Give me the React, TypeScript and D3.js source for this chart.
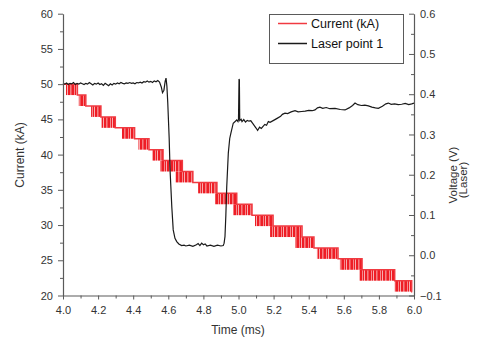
import { useEffect, useRef } from "react"
import * as d3 from "d3"

// Current staircase: quantised levels (kA) and the flicker window [start, end] (ms)
// in which the signal toggles from the previous level down to this one.
const currentLevels = [
  50.0, 48.45, 46.9, 45.35, 43.8, 42.25, 40.7, 39.15, 37.6, 36.05, 34.5, 32.95, 31.4, 29.85,
  28.3, 26.75, 25.2, 23.65, 22.1, 20.55,
]
const flickerStart = [
  4.017, 4.09, 4.16, 4.218, 4.336, 4.43, 4.51, 4.553, 4.64, 4.77, 4.866, 4.97, 5.094, 5.18,
  5.322, 5.447, 5.578, 5.69, 5.89,
]
const flickerEnd = [
  4.082, 4.13, 4.216, 4.298, 4.408, 4.49, 4.57, 4.68, 4.74, 4.877, 4.99, 5.077, 5.197, 5.362,
  5.43, 5.567, 5.704, 5.89, 5.987,
]
const currentEndTime = 5.99

// Laser point 1 voltage (V)
const laserTime = [
  4.0, 4.01, 4.02, 4.03, 4.04, 4.05, 4.06, 4.07, 4.08, 4.09, 4.1, 4.11, 4.12, 4.13, 4.14, 4.15,
  4.16, 4.17, 4.18, 4.19, 4.2, 4.21, 4.22, 4.23, 4.24, 4.25, 4.26, 4.27, 4.28, 4.29, 4.3, 4.31,
  4.32, 4.33, 4.34, 4.35, 4.36, 4.37, 4.38, 4.39, 4.4, 4.41, 4.42, 4.43, 4.44, 4.45, 4.46, 4.47,
  4.48, 4.49, 4.5, 4.51, 4.52, 4.53, 4.54, 4.55, 4.56, 4.567, 4.575, 4.582, 4.587, 4.592, 4.597,
  4.605, 4.61, 4.62, 4.628, 4.638, 4.648, 4.66, 4.676, 4.69, 4.7, 4.72, 4.74, 4.76, 4.77, 4.78,
  4.79, 4.8, 4.81, 4.82, 4.84, 4.86, 4.88, 4.9, 4.913, 4.918, 4.923, 4.928, 4.933, 4.942, 4.95,
  4.957, 4.97, 4.99, 4.997, 5.0, 5.003, 5.005, 5.007, 5.015, 5.02, 5.03, 5.04, 5.05, 5.06, 5.07,
  5.08, 5.09, 5.1, 5.109, 5.12, 5.13, 5.14, 5.15, 5.16, 5.17, 5.18, 5.2, 5.22, 5.24, 5.25, 5.265,
  5.28, 5.3, 5.322, 5.34, 5.36, 5.38, 5.4, 5.42, 5.436, 5.45, 5.464, 5.48, 5.5, 5.52, 5.55, 5.58,
  5.607, 5.63, 5.65, 5.664, 5.68, 5.7, 5.72, 5.74, 5.76, 5.78, 5.797, 5.82, 5.84, 5.854, 5.87,
  5.89, 5.91, 5.93, 5.95, 5.97, 5.987, 6.0,
]
const laserVolt = [
  0.427, 0.425, 0.428, 0.424, 0.427, 0.426, 0.429, 0.424, 0.427, 0.425, 0.428, 0.426, 0.424,
  0.427, 0.425, 0.429, 0.426, 0.423, 0.427, 0.425, 0.428, 0.424, 0.426, 0.422, 0.427, 0.424,
  0.421, 0.426, 0.423, 0.427, 0.425, 0.428, 0.426, 0.429, 0.427, 0.426, 0.428, 0.427, 0.429,
  0.427, 0.428, 0.426, 0.429, 0.428, 0.43, 0.428, 0.431, 0.43, 0.433, 0.43, 0.432, 0.429, 0.433,
  0.431, 0.434, 0.43, 0.418, 0.404, 0.41, 0.432, 0.44, 0.42, 0.378, 0.29, 0.212, 0.12, 0.063,
  0.042, 0.034, 0.028, 0.024, 0.025, 0.023, 0.025, 0.022, 0.026, 0.029, 0.024, 0.03, 0.026, 0.028,
  0.023, 0.025, 0.022, 0.025, 0.023, 0.024, 0.03, 0.0465, 0.1, 0.171, 0.254, 0.29, 0.304, 0.328,
  0.336, 0.332, 0.338, 0.438, 0.435, 0.335, 0.338, 0.332, 0.337, 0.331, 0.335, 0.333, 0.334,
  0.328, 0.322, 0.316, 0.31, 0.318, 0.315, 0.32, 0.325, 0.323, 0.332, 0.33, 0.335, 0.34, 0.345,
  0.35, 0.353, 0.352, 0.356, 0.359, 0.356, 0.357, 0.358, 0.36, 0.359, 0.361, 0.366, 0.368, 0.365,
  0.367, 0.364, 0.365, 0.362, 0.361, 0.366, 0.372, 0.378, 0.374, 0.372, 0.373, 0.371, 0.368,
  0.366, 0.365, 0.37, 0.376, 0.378, 0.375, 0.376, 0.374, 0.375, 0.377, 0.374, 0.376, 0.378,
]

const currentTicks = [20, 25, 30, 35, 40, 45, 50, 55, 60]
const voltTicks = [-0.1, 0.0, 0.1, 0.2, 0.3, 0.4, 0.5, 0.6]
const timeTicks = [4.0, 4.2, 4.4, 4.6, 4.8, 5.0, 5.2, 5.4, 5.6, 5.8, 6.0]

const FONT = "'Liberation Sans', Arial, sans-serif"
const AXIS = "#5a5a5a"
const TEXT = "#333"
const RED = "#ee1d25"

export default function App() {
  const svgRef = useRef<SVGSVGElement>(null)

  useEffect(() => {
    if (!svgRef.current) return
    const svg = d3.select(svgRef.current)
    svg.selectAll("*").remove()

    const x = d3.scaleLinear().domain([4, 6]).range([63, 414])
    const yL = d3.scaleLinear().domain([20, 60]).range([295.5, 13.7])
    const yR = d3.scaleLinear().domain([-0.1, 0.6]).range([295.5, 13.7])

    // striped fill to mimic the fast toggling between two levels
    const defs = svg.append("defs")
    const pat = defs
      .append("pattern")
      .attr("id", "flicker")
      .attr("patternUnits", "userSpaceOnUse")
      .attr("width", 9)
      .attr("height", 10)
    pat.append("rect").attr("width", 9).attr("height", 10).attr("fill", "#fbd3d4")
    ;[
      [0, 2],
      [2.6, 1.6],
      [5, 2.4],
      [7.9, 0.8],
    ].forEach(([px, w]) => {
      pat.append("rect").attr("x", px).attr("width", w).attr("height", 10).attr("fill", RED)
    })

    // Current staircase: flicker blocks
    svg
      .append("g")
      .selectAll("rect")
      .data(flickerStart)
      .enter()
      .append("rect")
      .attr("x", (d) => x(d))
      .attr("width", (d, i) => x(flickerEnd[i]) - x(d))
      .attr("y", (d, i) => yL(currentLevels[i]))
      .attr("height", (d, i) => yL(currentLevels[i + 1]) - yL(currentLevels[i]))
      .attr("fill", "url(#flicker)")

    // Current staircase: step line
    let stepPath = `M${x(4)},${yL(currentLevels[0])}`
    flickerEnd.forEach((t, i) => {
      stepPath += `H${x(t)}V${yL(currentLevels[i + 1])}`
    })
    stepPath += `H${x(currentEndTime)}`
    svg
      .append("path")
      .attr("d", stepPath)
      .attr("fill", "none")
      .attr("stroke", "#f03a41")
      .attr("stroke-width", 1.5)

    // Laser voltage
    const laserData = laserTime.map((t, i) => [t, laserVolt[i]] as [number, number])
    const line = d3
      .line<[number, number]>()
      .x((d) => x(d[0]))
      .y((d) => yR(d[1]))
    svg
      .append("path")
      .datum(laserData)
      .attr("fill", "none")
      .attr("stroke", "#1a1a1a")
      .attr("stroke-width", 1.2)
      .attr("d", line)

    const styleAxis = (g: any) => {
      g.selectAll(".domain").attr("stroke", AXIS).attr("stroke-width", 1.2)
      g.selectAll(".tick line").attr("stroke", AXIS)
      g.selectAll("text")
        .attr("fill", TEXT)
        .style("font-family", FONT)
        .style("font-size", "11px")
    }

    // Left axis
    const left = svg
      .append("g")
      .attr("transform", "translate(63,0)")
      .call(d3.axisLeft(yL).tickValues(currentTicks).tickSize(5).tickSizeOuter(0).tickPadding(5).tickFormat(d3.format("d")))
    styleAxis(left)
    svg
      .append("g")
      .attr("transform", "translate(63,0)")
      .call(d3.axisLeft(yL).tickValues(d3.range(22.5, 60, 5)).tickSize(3).tickSizeOuter(0).tickFormat(() => ""))
      .call((g) => g.select(".domain").remove())
      .selectAll("line")
      .attr("stroke", AXIS)

    // Right axis (ticks pointing inward)
    const right = svg
      .append("g")
      .attr("transform", "translate(414,0)")
      .call(d3.axisRight(yR).tickValues(voltTicks).tickSize(-5).tickSizeOuter(0).tickPadding(6).tickFormat(d3.format(".1f")))
    styleAxis(right)
    svg
      .append("g")
      .attr("transform", "translate(414,0)")
      .call(d3.axisRight(yR).tickValues(d3.range(-0.05, 0.6, 0.1)).tickSize(-3).tickSizeOuter(0).tickFormat(() => ""))
      .call((g) => g.select(".domain").remove())
      .selectAll("line")
      .attr("stroke", AXIS)

    // Bottom axis
    const bottom = svg
      .append("g")
      .attr("transform", "translate(0,295.5)")
      .call(d3.axisBottom(x).tickValues(timeTicks).tickSize(4).tickSizeOuter(0).tickPadding(7).tickFormat(d3.format(".1f")))
    styleAxis(bottom)
    svg
      .append("g")
      .attr("transform", "translate(0,295.5)")
      .call(d3.axisBottom(x).tickValues(d3.range(4.1, 6, 0.2)).tickSize(3).tickSizeOuter(0).tickFormat(() => ""))
      .call((g) => g.select(".domain").remove())
      .selectAll("line")
      .attr("stroke", AXIS)

    // Axis titles
    svg
      .append("text")
      .attr("x", 238)
      .attr("y", 334)
      .attr("text-anchor", "middle")
      .attr("fill", TEXT)
      .style("font-family", FONT)
      .style("font-size", "12px")
      .text("Time (ms)")

    svg
      .append("text")
      .attr("transform", "translate(24,155) rotate(-90)")
      .attr("text-anchor", "middle")
      .attr("fill", TEXT)
      .style("font-family", FONT)
      .style("font-size", "12px")
      .text("Current  (kA)")

    svg
      .append("text")
      .attr("transform", "translate(457,175) rotate(-90)")
      .attr("text-anchor", "middle")
      .attr("fill", TEXT)
      .style("font-family", FONT)
      .style("font-size", "11.5px")
      .text("Voltage (V)")

    svg
      .append("text")
      .attr("transform", "translate(467,180) rotate(-90)")
      .attr("text-anchor", "middle")
      .attr("fill", TEXT)
      .style("font-family", FONT)
      .style("font-size", "11.5px")
      .text("(Laser)")

    // Legend
    const legend = svg.append("g")
    legend
      .append("rect")
      .attr("x", 269.5)
      .attr("y", 14.5)
      .attr("width", 134)
      .attr("height", 49)
      .attr("fill", "white")
      .attr("stroke", AXIS)
      .attr("stroke-width", 1)
    const items = [
      { label: "Current (kA)", color: "#f03a41", y: 23.5 },
      { label: "Laser point 1", color: "#1a1a1a", y: 43.5 },
    ]
    items.forEach((it) => {
      legend
        .append("line")
        .attr("x1", 278)
        .attr("x2", 307)
        .attr("y1", it.y)
        .attr("y2", it.y)
        .attr("stroke", it.color)
        .attr("stroke-width", 1.5)
      legend
        .append("text")
        .attr("x", 311)
        .attr("y", it.y + 4.5)
        .attr("fill", "#111")
        .style("font-family", FONT)
        .style("font-size", "12.5px")
        .text(it.label)
    })
  }, [])

  return (
    <svg
      ref={svgRef}
      width={478}
      height={339}
      style={{ position: "absolute", left: 0, top: 0, background: "white" }}
    />
  )
}
